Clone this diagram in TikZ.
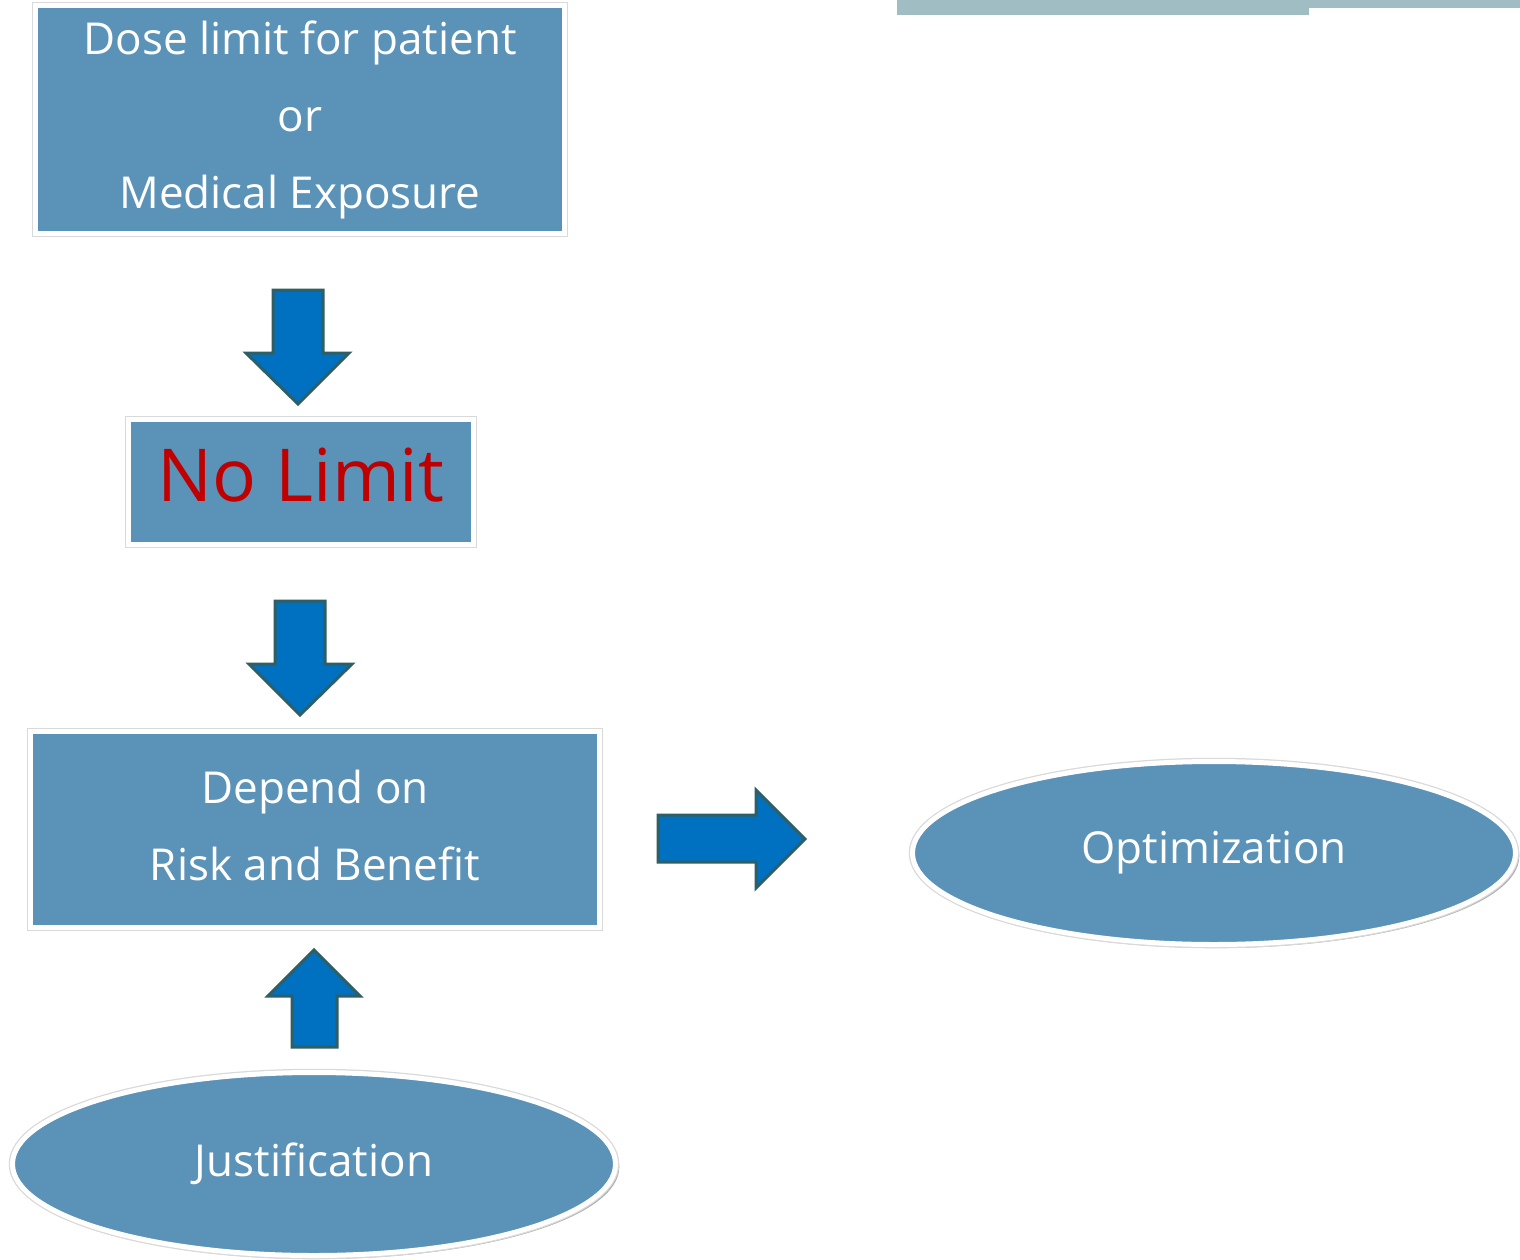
\documentclass[tikz,border=0pt]{standalone}
\usepackage{fontspec}
\setmainfont{Open Sans}
\usetikzlibrary{shadows,shapes.geometric}
\definecolor{boxblue}{HTML}{5B92B8}
\definecolor{arrblue}{HTML}{0070C0}
\definecolor{arredge}{HTML}{2F5F66}
\definecolor{topbar}{HTML}{9FBDC2}
\definecolor{nored}{HTML}{C00000}
\tikzset{
  blockbox/.style={fill=boxblue, draw=white, line width=5pt, text=white,
    drop shadow={shadow xshift=1pt, shadow yshift=-3pt, shadow scale=1.006,
      fill=black!70, opacity=0.45},
    preaction={draw=black!15, line width=7.5pt},
    align=center, inner sep=0pt},
  ovalbox/.style={ellipse, fill=boxblue, draw=white, line width=5pt, text=white,
    drop shadow={shadow xshift=2pt, shadow yshift=-3pt, shadow scale=1.006,
      fill=black!70, opacity=0.45},
    preaction={draw=black!15, line width=7.5pt},
    inner sep=0pt},
  blockarrow/.style={fill=arrblue, draw=arredge, line width=3pt, line join=miter},
  txt/.style={font=\fontsize{44}{77}\selectfont}
}
\begin{document}
\begin{tikzpicture}[x=1pt,y=-1pt]
\useasboundingbox (0,0) rectangle (1520,1260);
\fill[white] (0,0) rectangle (1520,1260);
% top bar
\fill[topbar] (897,0) rectangle (1309,15);
\fill[topbar] (1309,0) rectangle (1520,8);
% boxes
\node[blockbox, minimum width=529pt, minimum height=227pt, txt] (dose) at (300,119.5)
  {Dose limit for patient\\ or\\ Medical Exposure};
\node[blockbox, minimum width=345pt, minimum height=125pt] (nolimit) at (301,482) {};
\node[font=\fontsize{73}{80}\selectfont, text=nored, inner sep=0pt] (nltext) at (301,475) {No Limit};
\node[blockbox, minimum width=569pt, minimum height=196pt] (depend) at (315,829.5) {};
\node[txt, text=white, align=center, inner sep=0pt] (deptext) at (315,825) {Depend on\\ Risk and Benefit};
\node[ovalbox, minimum width=603pt, minimum height=183pt, txt] (opt) at (1214,853) {Optimization};
\node[ovalbox, minimum width=603pt, minimum height=183pt, txt] (just) at (314,1164) {Justification};
% block arrows
\draw[blockarrow] (273,290) -- (323,290) -- (323,353) -- (349,353) -- (298,404)
  -- (246,353) -- (273,353) -- cycle;
\draw[blockarrow] (275,601) -- (325,601) -- (325,664) -- (352,664) -- (300,715)
  -- (249,664) -- (275,664) -- cycle;
\draw[blockarrow] (658,815) -- (756,815) -- (756,790) -- (805,839) -- (756,888)
  -- (756,862) -- (658,862) -- cycle;
\draw[blockarrow] (292,1047) -- (292,996) -- (268,996) -- (314,950) -- (360,996)
  -- (337,996) -- (337,1047) -- cycle;
\end{tikzpicture}
\end{document}
